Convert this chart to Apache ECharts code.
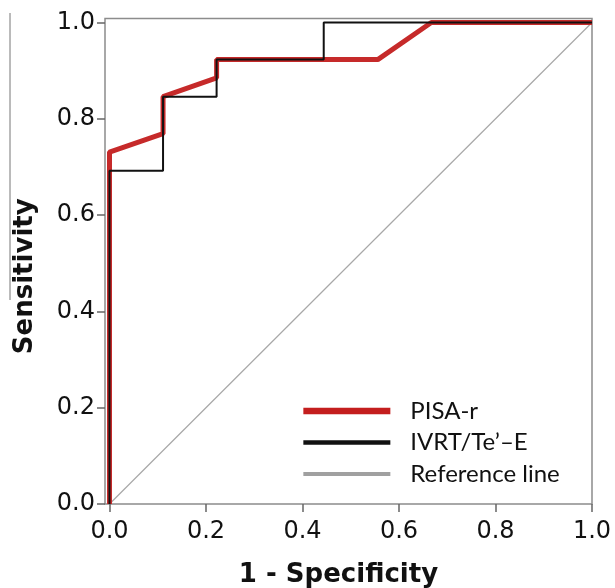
<!DOCTYPE html>
<html>
<head>
<meta charset="utf-8">
<script src="https://cdn.jsdelivr.net/npm/echarts@6/dist/echarts.min.js"></script>
<style>
html,body{margin:0;padding:0;background:#fff;}
#chart{width:615px;height:588px;}
</style>
</head>
<body>
<div id="chart"></div>
<script>
// Tick labels
const xTicks = [0, 0.2, 0.4, 0.6, 0.8, 1.0];
const yTicks = [0, 0.2, 0.4, 0.6, 0.8, 1.0];
// PISA-r ROC curve
const pisaFpr = [0, 0, 0.111, 0.111, 0.222, 0.222, 0.556, 0.667, 1];
const pisaTpr = [0, 0.731, 0.769, 0.846, 0.885, 0.923, 0.923, 1, 1];
// IVRT/Te'-E ROC curve
const ivrtFpr = [0, 0, 0.111, 0.111, 0.222, 0.222, 0.444, 0.444, 1];
const ivrtTpr = [0, 0.692, 0.692, 0.846, 0.846, 0.923, 0.923, 1, 1];
// Reference line
const refFpr = [0, 1];
const refTpr = [0, 1];
const seriesNames = ['PISA-r', 'IVRT/Te\u2019\u2013E', 'Reference line'];

const zip = (a, b) => a.map((v, i) => [v, b[i]]);
const clear = {color: 'rgba(0,0,0,0)', borderColor: 'rgba(0,0,0,0)', borderWidth: 0};

const chart = echarts.init(document.getElementById('chart'), null, {renderer: 'canvas'});
chart.setOption({
  animation: false,
  backgroundColor: '#fff',
  grid: {left: 105, right: 23, top: 18.5, bottom: 84, show: true, borderColor: '#8c8c8c', borderWidth: 1.5,
         containLabel: false, outerBoundsMode: 'none'},
  xAxis: {
    type: 'value', min: -0.0093, max: 1,
    axisLine: {show: false, onZero: false},
    axisTick: {show: true, inside: false, customValues: xTicks, length: 8, lineStyle: {color: '#666', width: 1.5}},
    axisLabel: {customValues: xTicks, formatter: v => v.toFixed(1), fontFamily: 'DejaVu Sans', fontSize: 24, color: '#111', margin: 16},
    splitLine: {show: false},
    name: '1 - Specificity', nameLocation: 'middle', nameGap: 58,
    nameTextStyle: {fontFamily: 'DejaVu Sans', fontWeight: 'bold', fontSize: 26, color: '#111', padding: [0, 20, 0, 0]}
  },
  yAxis: {
    type: 'value', min: 0, max: 1.0083,
    axisLine: {show: false, onZero: false},
    axisTick: {show: true, inside: false, customValues: yTicks, length: 8, lineStyle: {color: '#666', width: 1.5}},
    axisLabel: {customValues: yTicks, formatter: v => v.toFixed(1), fontFamily: 'DejaVu Sans', fontSize: 24, color: '#111', margin: 10},
    splitLine: {show: false},
    name: 'Sensitivity', nameLocation: 'middle', nameGap: 67, nameRotate: 90,
    nameTextStyle: {fontFamily: 'DejaVu Sans', fontWeight: 'bold', fontSize: 26, color: '#111', padding: [0, 30, 0, 0]}
  },
  legend: {
    orient: 'vertical', left: 295, top: 394,
    itemWidth: 87, itemHeight: 14, itemGap: 7.5,
    textStyle: {fontFamily: 'Lato', fontSize: 24, color: '#111', padding: [0, 0, 0, 15]},
    data: [
      {name: seriesNames[0], itemStyle: clear, lineStyle: {width: 6.7, color: '#c41e1e'}},
      {name: seriesNames[1], itemStyle: clear, lineStyle: {width: 4.5, color: '#111'}},
      {name: seriesNames[2], itemStyle: clear, lineStyle: {width: 4, color: '#a0a0a0'}}
    ]
  },
  series: [
    {name: seriesNames[2], type: 'line', data: zip(refFpr, refTpr), showSymbol: false, symbol: 'none',
     lineStyle: {color: '#a8a8a8', width: 1.2}, itemStyle: {color: '#a0a0a0'}, z: 2},
    {name: seriesNames[0], type: 'line', data: zip(pisaFpr, pisaTpr), showSymbol: false, symbol: 'none',
     lineStyle: {color: '#c62a2a', width: 5}, itemStyle: {color: '#c41e1e'}, z: 3},
    {name: seriesNames[1], type: 'line', data: zip(ivrtFpr, ivrtTpr), showSymbol: false, symbol: 'none',
     lineStyle: {color: '#111', width: 2}, itemStyle: {color: '#111'}, z: 4}
  ],
  graphic: [
    {type: 'line', shape: {x1: 10, y1: 13, x2: 10, y2: 300}, style: {stroke: '#777', lineWidth: 1}}
  ]
});
</script>
</body>
</html>
